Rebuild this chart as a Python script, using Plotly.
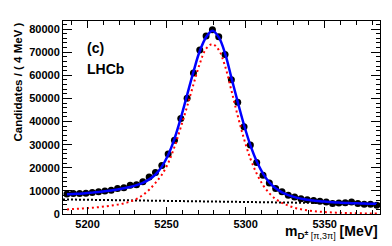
import plotly.graph_objects as go

# bin centres (4 MeV bins)
mass = [5187 + 4 * k for k in range(50)]

data = [8700, 8850, 8900, 9000, 9300, 9600, 9900, 10300, 11000, 11400,
        12400, 12700, 13900, 16000, 18000, 21000, 26000, 31900, 41300, 50100,
        61000, 70900, 77000, 79700, 76700, 69000, 58100, 48400, 37800, 29800,
        22300, 16800, 13400, 11000, 9600, 8100, 7400, 6650, 6200, 5800,
        5500, 5200, 4500, 4800, 4900, 5200, 4500, 4200, 4200, 3800]

total_fit = [8500, 8650, 8800, 9000, 9250, 9500, 9800, 10150, 10600, 11100,
             11700, 12500, 13500, 15000, 17100, 20500, 25500, 32500, 41500, 51500,
             61500, 70500, 76500, 79300, 76500, 69500, 59000, 48500, 38500, 29800,
             22800, 17500, 13700, 11100, 9400, 8200, 7300, 6650, 6150, 5800,
             5500, 5300, 5100, 4950, 4800, 4700, 4600, 4500, 4450, 4400]

signal_fit = [2000, 2150, 2300, 2500, 2700, 2950, 3250, 3600, 4050, 4600,
              5400, 6500, 8200, 10500, 13500, 17000, 22000, 29000, 37500, 46500,
              56000, 65000, 71500, 73500, 71000, 64000, 53500, 42500, 32500, 24000,
              17500, 12500, 9000, 6500, 4800, 3600, 2700, 2050, 1600, 1250,
              1000, 800, 650, 530, 440, 370, 310, 260, 220, 190]

bkg_mass = [5184.5, 5385]
bkg_fit = [6300, 4400]

x_range = [5184.5, 5385]
y_range = [0, 83500]

FONT = "Liberation Sans"

fig = go.Figure()
fig.add_trace(go.Scatter(x=mass, y=data, mode="markers",
                         marker=dict(color="black", size=7), showlegend=False))
fig.add_trace(go.Scatter(x=bkg_mass, y=bkg_fit, mode="lines",
                         line=dict(color="black", width=2, dash="2px,2px"), showlegend=False))
fig.add_trace(go.Scatter(x=mass, y=signal_fit, mode="lines", line_shape="spline",
                         line=dict(color="#ff0000", width=2, dash="2px,3px"), showlegend=False))
fig.add_trace(go.Scatter(x=mass, y=total_fit, mode="lines", line_shape="spline",
                         line=dict(color="#0000ff", width=2.5), showlegend=False))

fig.update_layout(
    width=392, height=246,
    margin=dict(l=55, r=20, t=13, b=40),
    plot_bgcolor="white", paper_bgcolor="white",
    font=dict(family=FONT, color="black"),
    xaxis=dict(range=x_range, showgrid=False, zeroline=False,
               showline=True, linecolor="black", linewidth=1, mirror="ticks",
               ticks="inside", ticklen=7, tickcolor="black",
               tick0=5200, dtick=50, tickformat="d",
               minor=dict(dtick=10, ticks="inside", ticklen=4, tickcolor="black"),
               tickfont=dict(size=11, family=FONT, weight="bold")),
    yaxis=dict(range=y_range, showgrid=False, zeroline=False,
               showline=True, linecolor="black", linewidth=1, mirror="ticks",
               ticks="inside", ticklen=9, tickcolor="black",
               tick0=0, dtick=10000, tickformat="d",
               minor=dict(dtick=2000, ticks="inside", ticklen=4, tickcolor="black"),
               tickfont=dict(size=11, family=FONT, weight="bold")),
)

fig.add_annotation(xref="paper", yref="paper", x=-0.145, y=1.0, xanchor="center", yanchor="top",
                   textangle=-90, text="<b>Candidates / ( 4 MeV )</b>", showarrow=False,
                   font=dict(size=11.5, family=FONT))
fig.add_annotation(xref="paper", yref="paper", x=0.07, y=0.86, xanchor="left", yanchor="middle",
                   text="<b>(c)</b>", showarrow=False, font=dict(size=14, family=FONT))
fig.add_annotation(xref="paper", yref="paper", x=0.07, y=0.75, xanchor="left", yanchor="middle",
                   text="<b>LHCb</b>", showarrow=False, font=dict(size=14, family=FONT))
fig.add_annotation(xref="paper", yref="paper", x=1.0, y=-0.095, xanchor="right", yanchor="middle",
                   text="<b>m<sub>D<sup>±</sup></sub></b><sub><span style='font-size:9px'> [π,3π]</span></sub><b> [MeV]</b>",
                   showarrow=False, font=dict(size=14, family=FONT))

fig.write_html("out.html")
